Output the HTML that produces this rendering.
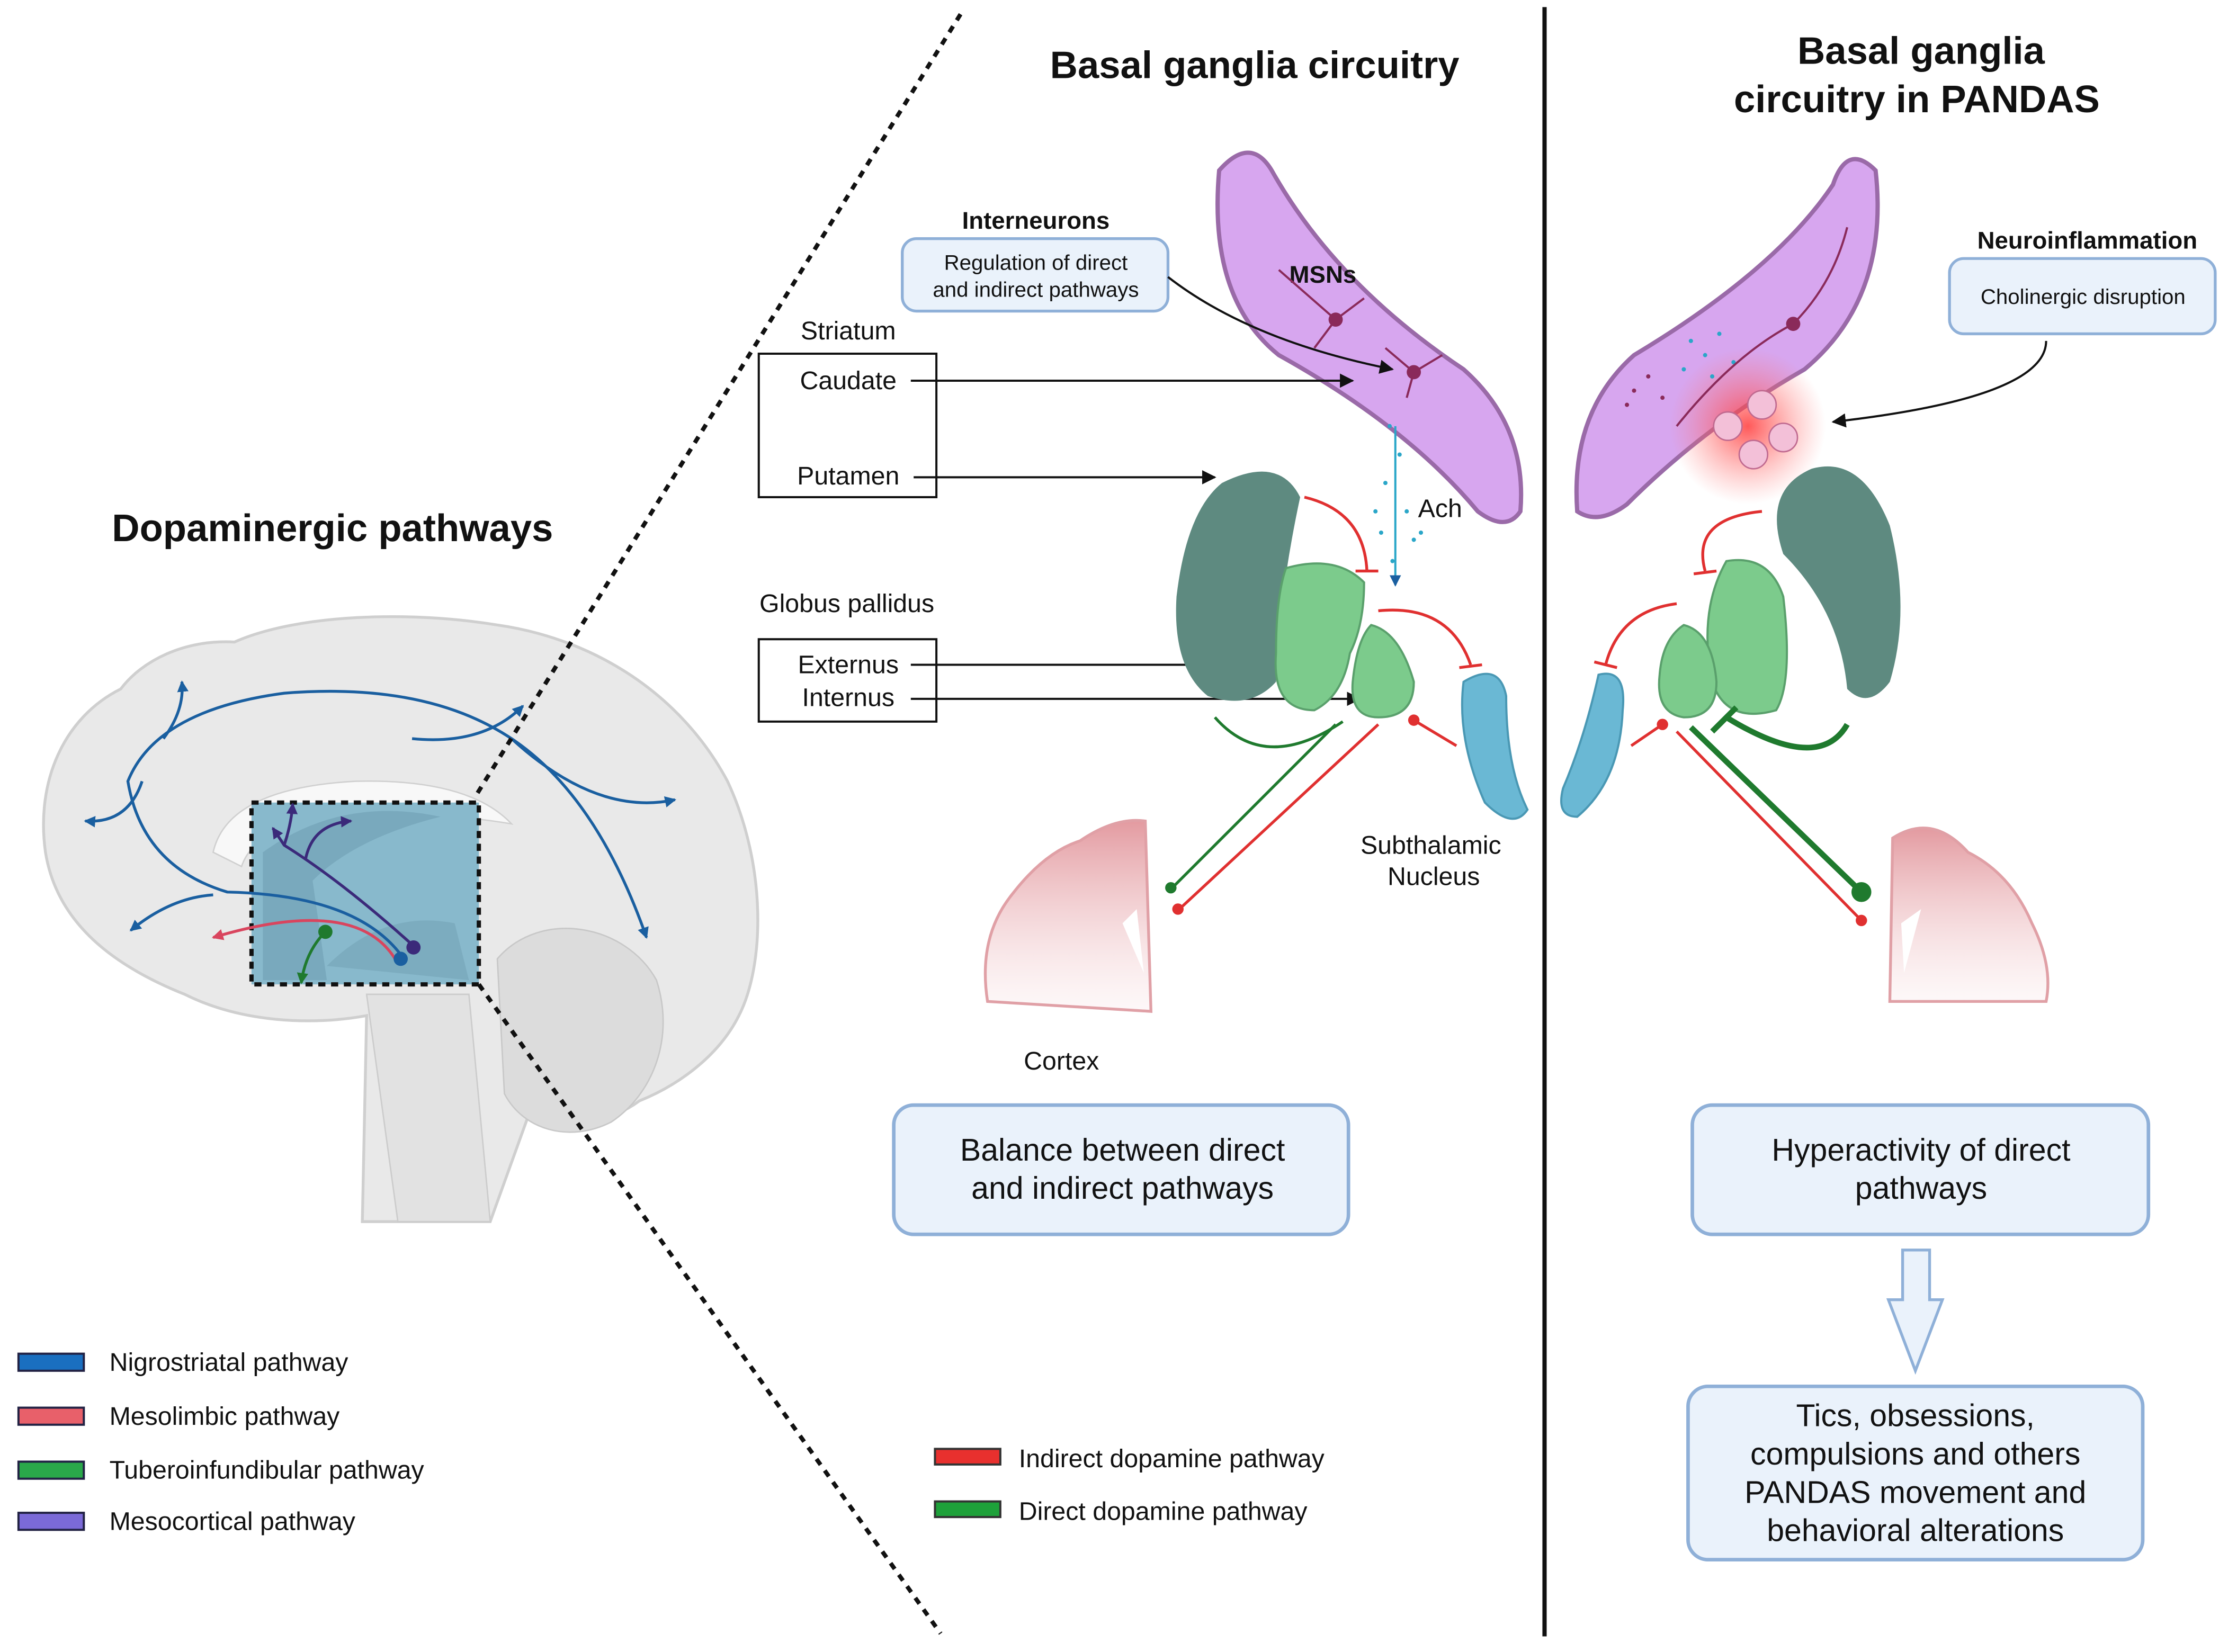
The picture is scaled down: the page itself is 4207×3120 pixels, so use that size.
<!DOCTYPE html>
<html><head><meta charset="utf-8"><style>
html,body{margin:0;padding:0;background:#fff;}
svg{display:block;}
text{font-family:"Liberation Sans",sans-serif;fill:#111;}
</style></head><body>
<svg width="4207" height="3120" viewBox="0 0 1568 1163" preserveAspectRatio="none" xmlns="http://www.w3.org/2000/svg">
<defs>
<marker id="ab" markerWidth="10" markerHeight="10" refX="9" refY="5" orient="auto" markerUnits="userSpaceOnUse"><path d="M0,0 L10,5 L0,10 z" fill="#111"/></marker>
<marker id="abl" markerWidth="8" markerHeight="8" refX="7" refY="4" orient="auto" markerUnits="userSpaceOnUse"><path d="M0,0 L8,4 L0,8 z" fill="#1a5fa0"/></marker>
<marker id="apu" markerWidth="8" markerHeight="8" refX="7" refY="4" orient="auto" markerUnits="userSpaceOnUse"><path d="M0,0 L8,4 L0,8 z" fill="#3b2a7a"/></marker>
<marker id="are" markerWidth="8" markerHeight="8" refX="7" refY="4" orient="auto" markerUnits="userSpaceOnUse"><path d="M0,0 L8,4 L0,8 z" fill="#d9455e"/></marker>
<marker id="agr" markerWidth="8" markerHeight="8" refX="7" refY="4" orient="auto" markerUnits="userSpaceOnUse"><path d="M0,0 L8,4 L0,8 z" fill="#1f7a2e"/></marker>
<radialGradient id="glow"><stop offset="0" stop-color="#ff3b3b" stop-opacity="0.85"/><stop offset="1" stop-color="#ff8080" stop-opacity="0"/></radialGradient>
<linearGradient id="ctx" x1="0" y1="0" x2="0" y2="1"><stop offset="0" stop-color="#e39aa0"/><stop offset="1" stop-color="#f6dcde" stop-opacity="0.2"/></linearGradient>
</defs>

<!-- Brain -->
<path d="M255,860 L258,715 C220,722 170,720 130,700 C80,680 40,650 32,600 C25,550 45,505 85,485 C100,465 130,450 165,452 C210,432 290,430 350,440 C420,450 480,490 512,550 C540,610 538,680 520,715 C505,745 475,765 450,775 C430,790 400,795 372,785 L345,860 Z" fill="#e9e9e9" stroke="#cfcfcf" stroke-width="2"/>
<path d="M350,675 C380,640 440,650 462,690 C475,730 460,770 430,790 C400,805 368,795 355,770 Z" fill="#dcdcdc" stroke="#c8c8c8"/>
<path d="M258,700 L330,700 L345,860 L280,860 Z" fill="#e2e2e2" stroke="#cccccc"/>
<path d="M150,600 Q160,555 250,550 Q330,548 360,580 Q300,570 240,575 Q180,580 170,610 Z" fill="#f8f8f8" stroke="#d0d0d0"/>
<rect x="177" y="565" width="160" height="128" fill="#88b9cc"/>
<path d="M185,600 Q240,560 310,575 Q250,590 220,620 L230,690 L185,690 Z" fill="#6f9fb2" opacity="0.6"/>
<path d="M230,680 Q270,640 320,650 L330,690 Z" fill="#6f9fb2" opacity="0.5"/>
<rect x="177" y="565" width="160" height="128" fill="none" stroke="#111" stroke-width="3" stroke-dasharray="5,4"/>
<!-- pathways -->
<g fill="none" stroke-width="2">
<path d="M282,672 Q250,630 160,628 Q100,610 90,550 Q110,500 200,488 Q300,480 360,520 Q420,560 455,660" stroke="#1a5fa0" marker-end="url(#abl)"/>
<path d="M115,520 Q130,500 128,480" stroke="#1a5fa0" marker-end="url(#abl)"/>
<path d="M290,520 Q340,525 368,497" stroke="#1a5fa0" marker-end="url(#abl)"/>
<path d="M360,520 Q420,575 475,563" stroke="#1a5fa0" marker-end="url(#abl)"/>
<path d="M100,550 Q90,580 60,578" stroke="#1a5fa0" marker-end="url(#abl)"/>
<path d="M150,630 Q120,632 92,655" stroke="#1a5fa0" marker-end="url(#abl)"/>
<path d="M278,675 Q250,630 150,660" stroke="#d9455e" marker-end="url(#are)"/>
<path d="M290,665 Q240,620 200,595 L192,583" stroke="#3b2a7a" marker-end="url(#apu)"/>
<path d="M200,595 Q205,580 206,566" stroke="#3b2a7a" marker-end="url(#apu)"/>
<path d="M215,605 Q220,580 247,578" stroke="#3b2a7a" marker-end="url(#apu)"/>
<path d="M229,656 Q215,670 212,692" stroke="#1f7a2e" marker-end="url(#agr)"/>
</g>
<circle cx="229" cy="656" r="5" fill="#1f7a2e"/>
<circle cx="291" cy="667" r="5" fill="#3b2a7a"/>
<circle cx="282" cy="675" r="5" fill="#1a5fa0"/>

<!-- dividers -->
<line x1="676" y1="10" x2="335" y2="560" stroke="#111" stroke-width="3" stroke-dasharray="5,5"/>
<line x1="337" y1="693" x2="662" y2="1150" stroke="#111" stroke-width="3" stroke-dasharray="5,5"/>
<line x1="1087" y1="5" x2="1087" y2="1152" stroke="#111" stroke-width="3"/>

<!-- titles -->
<text x="234" y="381" font-size="27" font-weight="bold" text-anchor="middle">Dopaminergic pathways</text>
<text x="883" y="55" font-size="27" font-weight="bold" text-anchor="middle">Basal ganglia circuitry</text>
<text x="1352" y="45" font-size="27" font-weight="bold" text-anchor="middle">Basal ganglia</text>
<text x="1349" y="79" font-size="27" font-weight="bold" text-anchor="middle">circuitry in PANDAS</text>

<!-- left legend -->
<g font-size="18">
<rect x="13" y="953" width="46" height="12" fill="#1a6fc0" stroke="#224" stroke-width="1.5"/><text x="77" y="965">Nigrostriatal pathway</text>
<rect x="13" y="991" width="46" height="12" fill="#e8606a" stroke="#224" stroke-width="1.5"/><text x="77" y="1003">Mesolimbic pathway</text>
<rect x="13" y="1029" width="46" height="12" fill="#2aa84a" stroke="#224" stroke-width="1.5"/><text x="77" y="1041">Tuberoinfundibular pathway</text>
<rect x="13" y="1065" width="46" height="12" fill="#7b6ad8" stroke="#224" stroke-width="1.5"/><text x="77" y="1077">Mesocortical pathway</text>
<rect x="658" y="1020" width="46" height="11" fill="#e8302e" stroke="#333" stroke-width="1.5"/><text x="717" y="1033">Indirect dopamine pathway</text>
<rect x="658" y="1057" width="46" height="11" fill="#1ea13a" stroke="#333" stroke-width="1.5"/><text x="717" y="1070">Direct dopamine pathway</text>
</g>

<!-- middle panel -->
<text x="729" y="161" font-size="17" font-weight="bold" text-anchor="middle">Interneurons</text>
<rect x="635" y="168" width="187" height="51" rx="10" fill="#eaf2fb" stroke="#8fb0d8" stroke-width="2"/>
<text x="729" y="190" font-size="15" text-anchor="middle">Regulation of direct</text>
<text x="729" y="209" font-size="15" text-anchor="middle">and indirect pathways</text>
<text x="597" y="239" font-size="18" text-anchor="middle">Striatum</text>
<rect x="534" y="249" width="125" height="101" fill="#fff" stroke="#111" stroke-width="1.5"/>
<text x="597" y="274" font-size="18" text-anchor="middle">Caudate</text>
<text x="597" y="341" font-size="18" text-anchor="middle">Putamen</text>
<text x="596" y="431" font-size="18" text-anchor="middle">Globus pallidus</text>
<rect x="534" y="450" width="125" height="58" fill="#fff" stroke="#111" stroke-width="1.5"/>
<text x="597" y="474" font-size="18" text-anchor="middle">Externus</text>
<text x="597" y="497" font-size="18" text-anchor="middle">Internus</text>

<path d="M858,120 Q880,95 895,120 Q940,200 1030,260 Q1075,300 1070,360 Q1060,375 1040,360 Q990,300 900,250 Q850,210 858,120 Z" fill="#d7a6ef" stroke="#9a6aa8" stroke-width="3"/>
<text x="931" y="199" font-size="17" font-weight="bold" text-anchor="middle">MSNs</text>
<g stroke="#8a2a5a" stroke-width="1.5" fill="none"><path d="M940,225 L900,190 M940,225 L960,210 M940,225 L925,245 M995,262 L975,245 M995,262 L1015,250 M995,262 L990,280"/></g>
<circle cx="940" cy="225" r="5" fill="#8a2a5a"/><circle cx="995" cy="262" r="5" fill="#8a2a5a"/>
<path d="M822,195 Q880,240 980,260" fill="none" stroke="#111" stroke-width="1.5" marker-end="url(#ab)"/>
<line x1="641" y1="268" x2="952" y2="268" stroke="#111" stroke-width="1.5" marker-end="url(#ab)"/>
<line x1="643" y1="336" x2="855" y2="336" stroke="#111" stroke-width="1.5" marker-end="url(#ab)"/>
<line x1="641" y1="468" x2="905" y2="468" stroke="#111" stroke-width="1.5" marker-end="url(#ab)"/>
<line x1="641" y1="492" x2="957" y2="492" stroke="#111" stroke-width="1.5" marker-end="url(#ab)"/>
<g fill="#2aa6c8"><circle cx="978" cy="300" r="1.5"/><circle cx="985" cy="320" r="1.5"/><circle cx="975" cy="340" r="1.5"/><circle cx="990" cy="360" r="1.5"/><circle cx="972" cy="375" r="1.5"/><circle cx="995" cy="380" r="1.5"/><circle cx="980" cy="395" r="1.5"/><circle cx="968" cy="360" r="1.5"/><circle cx="1000" cy="375" r="1.5"/></g>
<line x1="982" y1="300" x2="982" y2="412" stroke="#2aa6c8" stroke-width="1.5" marker-end="url(#abl)"/>
<text x="998" y="364" font-size="18">Ach</text>
<path d="M860,340 Q900,320 915,350 Q900,420 898,480 Q880,500 850,490 Q825,470 828,420 Q835,360 860,340 Z" fill="#5e8a80"/>
<path d="M905,400 Q940,390 960,410 Q960,440 950,460 Q945,490 925,500 Q895,500 898,460 Q898,420 905,400 Z" fill="#7ccb8c" stroke="#5aa06c" stroke-width="1.5"/>
<path d="M965,440 Q985,445 995,480 Q995,505 970,505 Q950,505 952,480 Q955,450 965,440 Z" fill="#7ccb8c" stroke="#5aa06c" stroke-width="1.5"/>
<path d="M1030,480 Q1055,465 1060,490 Q1060,540 1075,570 Q1065,585 1045,565 Q1025,520 1030,480 Z" fill="#6ab8d4" stroke="#4a98b4" stroke-width="1.5"/>
<g fill="none" stroke-width="2">
<path d="M918,350 Q960,360 962,402" stroke="#e03030"/><line x1="954" y1="402" x2="970" y2="402" stroke="#e03030"/>
<path d="M970,430 Q1020,425 1035,468" stroke="#e03030"/><line x1="1027" y1="470" x2="1043" y2="468" stroke="#e03030"/>
<path d="M1025,525 L995,507" stroke="#e03030"/>
<path d="M855,505 Q890,545 945,508" stroke="#1f7a2e"/>
<line x1="940" y1="510" x2="825" y2="625" stroke="#1f7a2e"/>
<line x1="970" y1="510" x2="830" y2="640" stroke="#e03030"/>
</g>
<circle cx="995" cy="507" r="4" fill="#e03030"/>
<circle cx="824" cy="625" r="4" fill="#1f7a2e"/><circle cx="829" cy="640" r="4" fill="#e03030"/>
<path d="M695,705 Q688,660 712,630 Q735,600 760,592 Q785,575 806,578 L810,712 Z" fill="url(#ctx)" stroke="#e0a0a6" stroke-width="2"/>
<path d="M790,650 L805,685 L800,640 Z" fill="#fff"/>
<text x="1007" y="601" font-size="18" text-anchor="middle">Subthalamic</text>
<text x="1009" y="623" font-size="18" text-anchor="middle">Nucleus</text>
<text x="747" y="753" font-size="18" text-anchor="middle">Cortex</text>
<rect x="629" y="778" width="320" height="91" rx="14" fill="#eaf2fb" stroke="#8fb0d8" stroke-width="2.5"/>
<text x="790" y="817" font-size="22" text-anchor="middle">Balance between direct</text>
<text x="790" y="844" font-size="22" text-anchor="middle">and indirect pathways</text>

<!-- PANDAS panel -->
<path d="M1320,120 Q1300,100 1290,130 Q1250,190 1150,250 Q1105,290 1110,360 Q1125,370 1145,355 Q1200,300 1270,260 Q1330,210 1320,120 Z" fill="#d7a6ef" stroke="#9a6aa8" stroke-width="3"/>
<circle cx="1230" cy="300" r="55" fill="url(#glow)"/>
<g fill="#f3c0d8" stroke="#c06a90"><circle cx="1240" cy="285" r="10"/><circle cx="1216" cy="300" r="10"/><circle cx="1255" cy="308" r="10"/><circle cx="1234" cy="320" r="10"/></g>
<g fill="#2aa6c8"><circle cx="1190" cy="240" r="1.5"/><circle cx="1200" cy="250" r="1.5"/><circle cx="1210" cy="235" r="1.5"/><circle cx="1220" cy="255" r="1.5"/><circle cx="1185" cy="260" r="1.5"/><circle cx="1205" cy="265" r="1.5"/></g>
<g fill="#8a2a5a"><circle cx="1160" cy="265" r="1.5"/><circle cx="1150" cy="275" r="1.5"/><circle cx="1170" cy="280" r="1.5"/><circle cx="1145" cy="285" r="1.5"/></g>
<circle cx="1262" cy="228" r="5" fill="#8a2a5a"/>
<path d="M1262,228 Q1290,200 1300,160 M1262,228 Q1220,250 1180,300" stroke="#8a2a5a" fill="none" stroke-width="1.5"/>
<text x="1469" y="175" font-size="17" font-weight="bold" text-anchor="middle">Neuroinflammation</text>
<rect x="1372" y="182" width="187" height="53" rx="10" fill="#eaf2fb" stroke="#8fb0d8" stroke-width="2"/>
<text x="1466" y="214" font-size="15" text-anchor="middle">Cholinergic disruption</text>
<path d="M1440,240 Q1440,280 1290,297" fill="none" stroke="#111" stroke-width="1.5" marker-end="url(#ab)"/>
<path d="M1275,330 Q1310,320 1330,370 Q1345,430 1330,480 Q1315,500 1300,485 Q1295,430 1255,390 Q1240,345 1275,330 Z" fill="#5e8a80"/>
<path d="M1215,395 Q1245,390 1255,420 Q1262,480 1250,500 Q1215,510 1205,480 Q1195,430 1215,395 Z" fill="#7ccb8c" stroke="#5aa06c" stroke-width="1.5"/>
<path d="M1185,440 Q1205,445 1208,480 Q1208,505 1185,505 Q1165,502 1168,475 Q1170,450 1185,440 Z" fill="#7ccb8c" stroke="#5aa06c" stroke-width="1.5"/>
<path d="M1125,475 Q1145,470 1142,500 Q1140,550 1110,575 Q1095,575 1100,555 Q1115,520 1125,475 Z" fill="#6ab8d4" stroke="#4a98b4" stroke-width="1.5"/>
<g fill="none" stroke-width="2">
<path d="M1240,360 Q1190,365 1200,402" stroke="#e03030"/><line x1="1192" y1="404" x2="1208" y2="402" stroke="#e03030"/>
<path d="M1180,425 Q1140,430 1130,468" stroke="#e03030"/><line x1="1122" y1="466" x2="1138" y2="470" stroke="#e03030"/>
<path d="M1148,525 L1170,510" stroke="#e03030"/>
<line x1="1180" y1="515" x2="1310" y2="648" stroke="#e03030"/>
<line x1="1190" y1="512" x2="1310" y2="628" stroke="#1f7a2e" stroke-width="4"/>
<path d="M1300,510 Q1280,545 1215,505" stroke="#1f7a2e" stroke-width="4"/><line x1="1205" y1="515" x2="1222" y2="498" stroke="#1f7a2e" stroke-width="4"/>
</g>
<circle cx="1170" cy="510" r="4" fill="#e03030"/>
<circle cx="1310" cy="628" r="7" fill="#1f7a2e"/><circle cx="1310" cy="648" r="4" fill="#e03030"/>
<path d="M1330,705 L1332,590 Q1360,572 1385,600 Q1415,615 1430,650 Q1445,680 1440,705 Z" fill="url(#ctx)" stroke="#e0a0a6" stroke-width="2"/>
<path d="M1338,650 L1352,640 L1340,685 Z" fill="#fff"/>
<rect x="1191" y="778" width="321" height="91" rx="14" fill="#eaf2fb" stroke="#8fb0d8" stroke-width="2.5"/>
<text x="1352" y="817" font-size="22" text-anchor="middle">Hyperactivity of direct</text>
<text x="1352" y="844" font-size="22" text-anchor="middle">pathways</text>
<path d="M1339,880 L1358,880 L1358,915 L1367,915 L1348,965 L1329,915 L1339,915 Z" fill="#eaf2fb" stroke="#8fb0d8" stroke-width="2"/>
<rect x="1188" y="976" width="320" height="122" rx="14" fill="#eaf2fb" stroke="#8fb0d8" stroke-width="2.5"/>
<text x="1348" y="1004" font-size="22" text-anchor="middle">Tics, obsessions,</text>
<text x="1348" y="1031" font-size="22" text-anchor="middle">compulsions and others</text>
<text x="1348" y="1058" font-size="22" text-anchor="middle">PANDAS movement and</text>
<text x="1348" y="1085" font-size="22" text-anchor="middle">behavioral alterations</text>
</svg>
</body></html>
